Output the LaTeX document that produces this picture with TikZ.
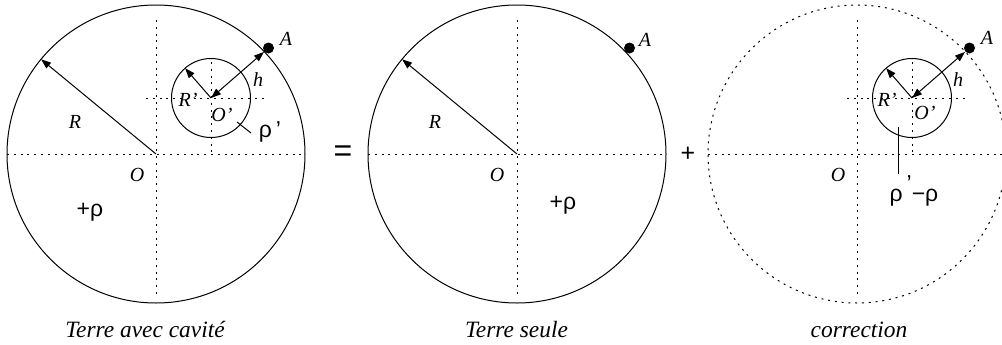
\documentclass[tikz,border=0pt]{standalone}
\usepackage{fontspec}
\setmainfont{Liberation Serif}
\newfontfamily\sansfnt{Liberation Sans}
\usetikzlibrary{arrows.meta,positioning}

\begin{document}
\begin{tikzpicture}[x=0.5pt,y=0.5pt,line width=0.5pt,
  guide/.style={dash pattern=on 1pt off 2.4pt},
  arr/.style={-{Triangle[length=5pt,width=3.6pt]}},
  darr/.style={{Triangle[length=5pt,width=3.6pt]}-{Triangle[length=5pt,width=3.6pt]}},
  lbl/.style={font=\fontsize{10}{11}\selectfont\itshape,inner sep=0pt},
  glbl/.style={font=\sansfnt\fontsize{11.5}{12}\selectfont,inner sep=0pt},
  capt/.style={font=\fontsize{11.7}{13}\selectfont\itshape,anchor=base,inner sep=0pt},
  ptA/.style={circle,fill,inner sep=0pt,minimum size=5.5pt}]
\useasboundingbox (0,0) rectangle (1002,344);
\coordinate (O1) at (156,190);
\coordinate (O2) at (517,190);
\coordinate (O3) at (857,190);
\coordinate (P1) at ([shift={(55,56)}]O1);
\coordinate (P3) at ([shift={(55,56)}]O3);
\draw (O1) circle[radius=149];
\draw (O2) circle[radius=149];
\draw[guide] (O3) circle[radius=149];
\draw (P1) circle[radius=39.5];
\draw (P3) circle[radius=39.5];
\draw[guide] ([shift={(-149,0)}]O1) -- ([shift={(149,0)}]O1);
\draw[guide] ([shift={(0,134)}]O1) -- ([shift={(0,-141)}]O1);
\draw[guide] ([shift={(-149,0)}]O2) -- ([shift={(149,0)}]O2);
\draw[guide] ([shift={(0,134)}]O2) -- ([shift={(0,-141)}]O2);
\draw[guide] ([shift={(-149,0)}]O3) -- ([shift={(149,0)}]O3);
\draw[guide] ([shift={(0,134)}]O3) -- ([shift={(0,-141)}]O3);
\draw[guide] ([shift={(-65,0)}]P1) -- ([shift={(55,0)}]P1);
\draw[guide] ([shift={(0,36)}]P1) -- (P1 |- O1);
\draw[guide] ([shift={(-65,0)}]P3) -- ([shift={(55,0)}]P3);
\draw[guide] ([shift={(0,36)}]P3) -- (P3 |- O3);
\node[ptA] (A1) at ([shift={(112.5,106)}]O1) {};
\node[ptA] (A2) at ([shift={(112.5,106)}]O2) {};
\node[ptA] (A3) at ([shift={(112.5,106)}]O3) {};
\draw[arr] (O1) -- ([shift={(140.5:149)}]O1);
\draw[arr] (O2) -- ([shift={(140.5:149)}]O2);
\draw[arr] (P1) -- ([shift={(131:39.5)}]P1);
\draw[arr] (P3) -- ([shift={(131:39.5)}]P3);
\draw[darr] (P1) -- (A1);
\draw[darr] (P3) -- (A3);
\node[lbl] (A1t) at ([shift={(130,115)}]O1) {A};
\node[lbl] (h1) at ([shift={(102,74)}]O1) {h};
\node[lbl] (Rp1) at ([shift={(32,54)}]O1) {R’};
\node[lbl] (Op1) at ([shift={(66,39)}]O1) {O’};
\node[lbl] (R1) at ([shift={(-81,32)}]O1) {R};
\node[lbl] (O1t) at ([shift={(-19,-21)}]O1) {O};
\node[glbl] (rho1) at ([shift={(-66,-58)}]O1) {+ρ};
\node[glbl] (rhop1) at ([shift={(114,22)}]O1) {ρ\,’};
\coordinate (l1) at ([shift={(81,32)}]O1);
\draw (l1) -- ([shift={(95,21)}]O1);
\node[lbl] (A2t) at ([shift={(128,114)}]O2) {A};
\node[lbl] (R2) at ([shift={(-82,32)}]O2) {R};
\node[lbl] (O2t) at ([shift={(-20,-21)}]O2) {O};
\node[glbl] (rho2) at ([shift={(46,-51)}]O2) {+ρ};
\node[lbl] (A3t) at ([shift={(130,116)}]O3) {A};
\node[lbl] (h3) at ([shift={(101,74)}]O3) {h};
\node[lbl] (Rp3) at ([shift={(30,54)}]O3) {R’};
\node[lbl] (Op3) at ([shift={(68,41)}]O3) {O’};
\node[lbl] (O3t) at ([shift={(-19,-21)}]O3) {O};
\node[glbl] (rho3) at ([shift={(57,-37)}]O3) {ρ\,\raisebox{.45em}{’}−ρ};
\coordinate (l3) at ([shift={(41.3,27)}]O3);
\draw (l3) -- ([shift={(41.3,-20)}]O3);
\node[font=\sansfnt\fontsize{16}{16}\selectfont] (eq) at (343,190) {=};
\node[font=\sansfnt\fontsize{12.5}{13}\selectfont] (plus) at (688,190) {+};
\node[capt] (c1) at (145,7) {Terre avec cavité};
\node[capt] (c2) at (516.5,7) {Terre seule};
\node[capt] (c3) at (859,7) {correction};
\end{tikzpicture}
\end{document}
